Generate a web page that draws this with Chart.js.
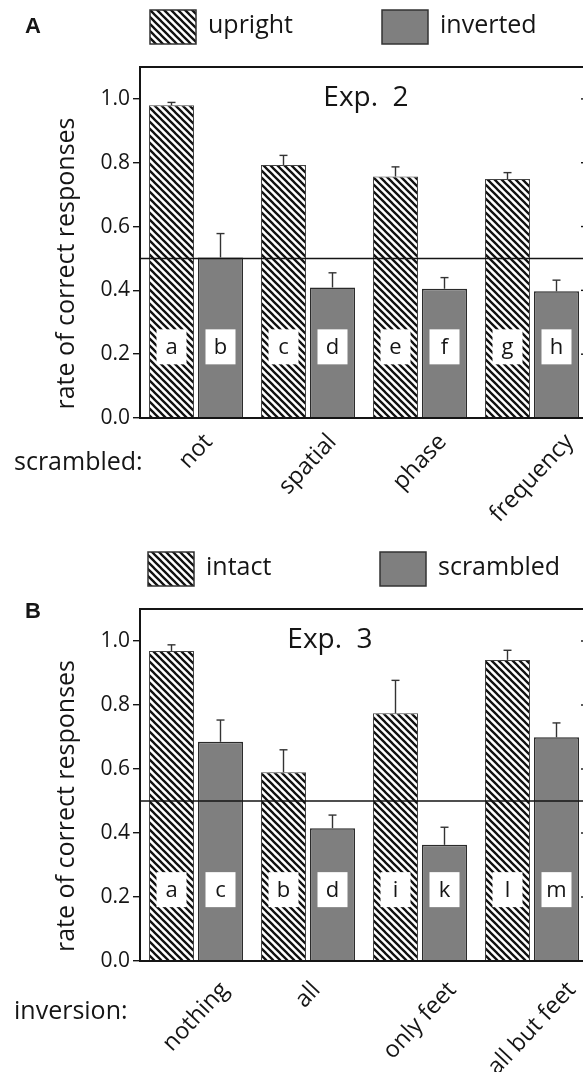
<!DOCTYPE html>
<html lang="en">
<head>
<meta charset="UTF-8">
<title>Exp. 2 / Exp. 3 - rate of correct responses</title>
<script src="https://cdn.jsdelivr.net/npm/chart.js@4.4.1/dist/chart.umd.min.js"></script>
<style>
  html, body { margin: 0; padding: 0; background: #fff; overflow: hidden; }
  .panel { position: absolute; left: 0; width: 600px; }
  #panelA { top: 0; height: 540px; }
  #panelB { top: 540px; height: 532px; }
</style>
</head>
<body>
<div id="panelA" class="panel"><canvas id="chartA" width="600" height="540"></canvas></div>
<div id="panelB" class="panel"><canvas id="chartB" width="600" height="532"></canvas></div>

<script>
// Exp. 2
const scrambleTypes = ['not', 'spatial', 'phase', 'frequency'];
const uprightRate  = [0.980, 0.793, 0.757, 0.749];
const uprightErr   = [0.009, 0.030, 0.030, 0.020];
const invertedRate = [0.503, 0.409, 0.405, 0.397];
const invertedErr  = [0.075, 0.046, 0.035, 0.035];
const uprightTags  = ['a', 'c', 'e', 'g'];
const invertedTags = ['b', 'd', 'f', 'h'];

// Exp. 3
const inversionTypes = ['nothing', 'all', 'only feet', 'all but feet'];
const intactRate    = [0.969, 0.590, 0.774, 0.941];
const intactErr     = [0.019, 0.070, 0.103, 0.030];
const scrambledRate = [0.685, 0.415, 0.363, 0.699];
const scrambledErr  = [0.068, 0.041, 0.055, 0.045];
const intactTags    = ['a', 'b', 'i', 'l'];
const scrambledTags = ['c', 'd', 'k', 'm'];

const yTicks = [0, 0.2, 0.4, 0.6, 0.8, 1.0];
const chanceLevel = 0.5;
const FONT = '"Open Sans", "Noto Sans", sans-serif';
const INK = '#151515';
const GRAY = '#7f7f7f';

function hatch() {
  const s = 7;
  const c = document.createElement('canvas');
  c.width = s; c.height = s;
  const g = c.getContext('2d');
  g.fillStyle = '#fff';
  g.fillRect(0, 0, s, s);
  g.strokeStyle = '#111';
  g.lineWidth = 2.3;
  g.beginPath();
  g.moveTo(-1, -1); g.lineTo(s + 1, s + 1);
  g.moveTo(-1, s - 1); g.lineTo(1, s + 1);
  g.moveTo(s - 1, -1); g.lineTo(s + 1, 1);
  g.stroke();
  return g.createPattern(c, 'repeat');
}

function seg(ctx, x1, y1, x2, y2) {
  ctx.beginPath();
  ctx.moveTo(x1, y1);
  ctx.lineTo(x2, y2);
  ctx.stroke();
}

const decor = {
  id: 'decor',
  afterDatasetsDraw(chart, args, o) {
    const { ctx, chartArea: a, scales: { x, y } } = chart;
    ctx.save();

    // chance level
    ctx.strokeStyle = INK;
    ctx.lineWidth = 1.6;
    const yc = y.getPixelForValue(chanceLevel);
    seg(ctx, a.left, yc, a.right, yc);

    // error bars + letter tags
    chart.data.datasets.forEach((ds, di) => {
      chart.getDatasetMeta(di).data.forEach((bar, i) => {
        const top = y.getPixelForValue(ds.data[i] + ds.errors[i]);
        ctx.strokeStyle = '#333';
        ctx.lineWidth = 1.4;
        seg(ctx, bar.x, bar.y, bar.x, top);
        seg(ctx, bar.x - 4, top, bar.x + 4, top);

        const ty = y.getPixelForValue(o.tagLevel);
        ctx.fillStyle = '#fff';
        ctx.fillRect(bar.x - 15, ty - 17.5, 30, 35);
        ctx.fillStyle = INK;
        ctx.font = '22px ' + FONT;
        ctx.textAlign = 'center';
        ctx.textBaseline = 'middle';
        ctx.fillText(ds.tags[i], bar.x, ty + 1);
      });
    });

    // frame and inner ticks on the right
    ctx.strokeStyle = INK;
    ctx.lineWidth = 2;
    ctx.strokeRect(a.left, a.top, a.right - a.left, a.bottom - a.top);
    ctx.lineWidth = 1.4;
    yTicks.forEach(v => {
      const py = y.getPixelForValue(v);
      seg(ctx, a.right - 7, py, a.right, py);
    });
    ctx.restore();
  },
  afterDraw(chart, args, o) {
    const { ctx, chartArea: a, scales: { x } } = chart;
    ctx.save();
    ctx.fillStyle = INK;

    // legend
    chart.data.datasets.forEach((ds, di) => {
      const bx = o.legendX[di], by = a.top - 57;
      ctx.fillStyle = ds.backgroundColor;
      ctx.fillRect(bx, by, 46, 34);
      ctx.strokeStyle = '#333';
      ctx.lineWidth = 1.5;
      ctx.strokeRect(bx, by, 46, 34);
      ctx.fillStyle = INK;
      ctx.font = '25px ' + FONT;
      ctx.textAlign = 'left';
      ctx.textBaseline = 'middle';
      ctx.fillText(ds.label, bx + 58, by + 16);
    });

    // panel letter
    ctx.font = 'bold 22px "Liberation Sans", Arial, sans-serif';
    ctx.textAlign = 'left';
    ctx.textBaseline = 'middle';
    ctx.fillText(o.letter, 25, o.letterY);

    // experiment name
    ctx.font = '28px ' + FONT;
    ctx.textAlign = 'center';
    ctx.fillText(o.exp, o.expX, a.top + 31);

    // y title
    ctx.font = '25px ' + FONT;
    ctx.save();
    ctx.translate(67, (a.top + a.bottom) / 2 + 21);
    ctx.rotate(-Math.PI / 2);
    ctx.fillText('rate of correct responses', 0, 0);
    ctx.restore();

    // x caption
    ctx.textAlign = 'left';
    ctx.fillText(o.caption, 14, a.bottom + o.captionDy);

    // rotated category labels, centred on the group
    const fs = 23.5;
    const ang = 47 * Math.PI / 180;
    ctx.font = fs + 'px ' + FONT;
    ctx.textAlign = 'center';
    chart.data.labels.forEach((lab, i) => {
      const px = x.getPixelForTick(i);
      const w = ctx.measureText(lab).width;
      const cy = a.bottom + o.labelGap + 0.5 * (w * Math.sin(ang) + fs * Math.cos(ang));
      ctx.save();
      ctx.translate(px, cy);
      ctx.rotate(-ang);
      ctx.fillText(lab, 0, 0);
      ctx.restore();
    });
    ctx.restore();
  }
};

function makeChart(id, labels, sets, extra) {
  const pattern = hatch();
  return new Chart(document.getElementById(id), {
    type: 'bar',
    data: {
      labels: labels,
      datasets: [
        {
          label: sets[0].label, data: sets[0].data, errors: sets[0].err, tags: sets[0].tags,
          backgroundColor: pattern, borderColor: '#444', borderWidth: 1
        },
        {
          label: sets[1].label, data: sets[1].data, errors: sets[1].err, tags: sets[1].tags,
          backgroundColor: GRAY, borderColor: '#2a2a2a', borderWidth: 1.5
        }
      ]
    },
    options: {
      responsive: false,
      animation: false,
      layout: { padding: { top: extra.padTop, right: 12, left: 0, bottom: 0 } },
      datasets: { bar: { categoryPercentage: 0.875, barPercentage: 0.918 } },
      plugins: {
        legend: { display: false },
        tooltip: { enabled: false },
        decor: extra
      },
      scales: {
        x: {
          grid: { display: false },
          border: { display: false },
          ticks: { display: false },
          afterFit: s => { s.height = extra.axisH; }
        },
        y: {
          min: 0,
          max: 1.1,
          afterBuildTicks: s => { s.ticks = yTicks.map(v => ({ value: v })); },
          afterFit: s => { s.width = 140; },
          border: { display: false },
          grid: { drawOnChartArea: false, drawTicks: true, tickLength: 7, color: INK, lineWidth: 1.4 },
          ticks: {
            padding: 3,
            color: INK,
            font: { family: FONT, size: 21 },
            callback: v => v.toFixed(1)
          }
        }
      }
    },
    plugins: [decor]
  });
}

makeChart('chartA', scrambleTypes, [
  { label: 'upright', data: uprightRate, err: uprightErr, tags: uprightTags },
  { label: 'inverted', data: invertedRate, err: invertedErr, tags: invertedTags }
], {
  padTop: 67, axisH: 122, tagLevel: 0.223,
  legendX: [150, 382], letter: 'A', letterY: 27,
  exp: 'Exp.  2', expX: 366,
  caption: 'scrambled:', captionDy: 45, labelGap: 12
});

makeChart('chartB', inversionTypes, [
  { label: 'intact', data: intactRate, err: intactErr, tags: intactTags },
  { label: 'scrambled', data: scrambledRate, err: scrambledErr, tags: scrambledTags }
], {
  padTop: 69, axisH: 111, tagLevel: 0.223,
  legendX: [148, 380], letter: 'B', letterY: 72,
  exp: 'Exp.  3', expX: 330,
  caption: 'inversion:', captionDy: 51, labelGap: 17
});
</script>
</body>
</html>
